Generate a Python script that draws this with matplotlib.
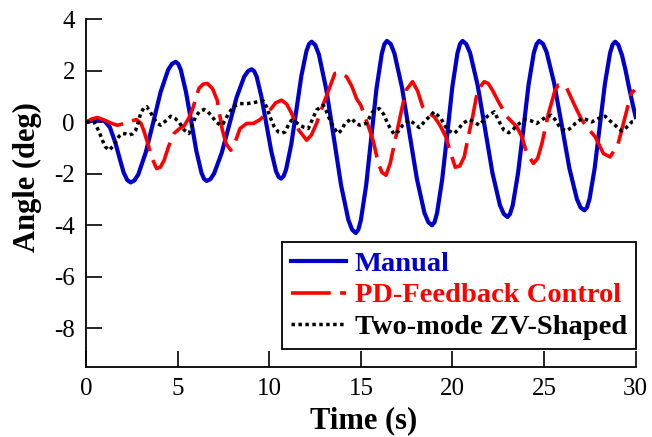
import numpy as np
import matplotlib
matplotlib.use('Agg')
import matplotlib.pyplot as plt

plt.rcParams['font.family'] = ['Liberation Serif', 'DejaVu Serif']
plt.rcParams['axes.unicode_minus'] = False

# Manual response
t_manual = [0, 0.5, 1.0, 1.3, 1.6, 1.85, 2.05, 2.25, 2.44,
            2.64, 2.85, 3.26, 3.67, 4.07, 4.48, 4.69, 4.89,
            5.03, 5.17, 5.45, 5.74, 6.02, 6.30, 6.44, 6.58,
            6.79, 6.99, 7.40, 7.81, 8.22, 8.63, 8.84, 9.04,
            9.17, 9.31, 9.57, 9.84, 10.11, 10.37, 10.51, 10.64,
            10.78, 10.92, 11.20, 11.48, 11.75, 12.03, 12.17, 12.31,
            12.51, 12.71, 13.11, 13.52, 13.92, 14.32, 14.52, 14.72,
            14.86, 15.00, 15.29, 15.57, 15.85, 16.14, 16.28, 16.42,
            16.63, 16.83, 17.24, 17.65, 18.06, 18.47, 18.68, 18.88,
            19.02, 19.16, 19.44, 19.72, 19.99, 20.27, 20.41, 20.55,
            20.75, 20.96, 21.37, 21.78, 22.18, 22.59, 22.80, 23.0,
            23.14, 23.29, 23.58, 23.87, 24.15, 24.44, 24.59, 24.73,
            24.94, 25.14, 25.55, 25.97, 26.38, 26.79, 26.99, 27.2,
            27.34, 27.48, 27.76, 28.04, 28.32, 28.60, 28.74, 28.88,
            29.05, 29.25, 29.45, 29.65, 29.85, 30.0]
y_manual = [0, 0.08, 0.05, -0.2, -0.8, -1.45, -1.95, -2.25, -2.34,
            -2.26, -2.03, -1.17, 0.0, 1.17, 2.03, 2.26, 2.34,
            2.26, 2.03, 1.18, 0.03, -1.12, -1.97, -2.20, -2.28,
            -2.21, -1.99, -1.20, -0.12, 0.97, 1.76, 1.98, 2.05,
            1.98, 1.77, 0.99, -0.07, -1.13, -1.91, -2.12, -2.19,
            -2.10, -1.83, -0.86, 0.47, 1.79, 2.76, 3.03, 3.12,
            2.99, 2.62, 1.27, -0.59, -2.45, -3.80, -4.17, -4.30,
            -4.17, -3.80, -2.44, -0.58, 1.29, 2.65, 3.02, 3.15,
            3.03, 2.67, 1.36, -0.43, -2.21, -3.52, -3.88, -4.0,
            -3.88, -3.52, -2.21, -0.43, 1.36, 2.67, 3.03, 3.15,
            3.03, 2.69, 1.44, -0.27, -1.97, -3.22, -3.56, -3.68,
            -3.56, -3.22, -1.97, -0.27, 1.44, 2.69, 3.03, 3.15,
            3.04, 2.71, 1.51, -0.14, -1.79, -2.98, -3.31, -3.42,
            -3.31, -2.98, -1.79, -0.15, 1.49, 2.68, 3.01, 3.12,
            3.0, 2.6, 2.0, 1.3, 0.65, 0.2]

# PD-feedback control response
t_pd = [0, 0.3, 0.62, 1.0, 1.4, 1.7, 2.1, 2.5, 2.75, 3.0, 3.16, 3.4, 3.6,
        3.85, 4.05, 4.26, 4.5, 4.8, 5.1, 5.35, 5.6, 5.8, 6.0, 6.16, 6.4,
        6.62, 6.9, 7.16, 7.44, 7.65, 7.9, 8.15, 8.4, 8.77, 9.13, 9.5, 10.04,
        10.35, 10.67, 10.95, 11.22, 11.6, 12.04, 12.3, 12.58, 12.95, 13.31,
        13.58, 13.9, 14.22, 14.5, 14.77, 15.0, 15.3, 15.5, 15.7, 15.95,
        16.15, 16.37, 16.6, 16.91, 17.2, 17.46, 17.82, 18.1, 18.37, 18.7,
        19.0, 19.3, 19.64, 19.9, 20.15, 20.4, 20.64, 20.85, 21.1, 21.37,
        21.73, 21.95, 22.18, 22.51, 22.97, 23.51, 23.79, 24.06, 24.42,
        24.65, 24.88, 25.24, 25.6, 25.78, 26.0, 26.24, 26.7, 27.06, 27.4,
        27.79, 28.24, 28.6, 29.02, 29.33, 29.75, 29.95]
y_pd = [0, 0.12, 0.18, 0.08, -0.05, -0.12, -0.05, 0.05, 0.1, -0.05, -0.35,
        -0.9, -1.4, -1.8, -1.75, -1.48, -0.95, -0.44, -0.25, -0.15, 0.15,
        0.47, 0.95, 1.31, 1.48, 1.5, 1.3, 0.85, -0.31, -0.85, -1.09, -0.75,
        -0.25, -0.05, -0.05, 0.1, 0.47, 0.75, 0.85, 0.7, 0.34, -0.3, -0.7,
        -0.5, -0.05, 0.7, 1.37, 1.89, 1.9, 1.76, 1.4, 0.9, 0.65, 0.05,
        -0.35, -0.8, -1.6, -1.95, -2.06, -1.6, -0.57, 0.4, 1.24, 1.57, 1.2,
        0.6, 0.35, 0.21, -0.1, -0.57, -1.2, -1.75, -1.7, -1.35, -0.6, 0.21,
        1.24, 1.57, 1.5, 1.24, 0.79, 0.21, -0.18, -0.57, -1.22, -1.6, -1.4,
        -0.83, 0.34, 1.24, 1.44, 1.45, 1.31, 0.6, 0.08, -0.25, -0.57, -1.22,
        -1.35, -0.89, -0.05, 1.11, 1.25]

# Two-mode ZV-shaped response
t_zv = [0, 0.44, 0.7, 0.89, 1.05, 1.25, 1.45, 1.62, 1.8, 1.98, 2.15, 2.35,
        2.55, 2.71, 2.85, 2.98, 3.15, 3.31, 3.5, 3.71, 3.9, 4.07, 4.35, 4.62,
        4.85, 5.07, 5.35, 5.62, 5.8, 5.98, 6.2, 6.44, 6.65, 6.89, 7.1, 7.35,
        7.49, 7.75, 8.04, 8.4, 8.8, 9.13, 9.4, 9.67, 9.85, 10.04, 10.25,
        10.49, 10.7, 10.86, 11.05, 11.22, 11.45, 11.67, 11.9, 12.13, 12.35,
        12.58, 12.95, 13.1, 13.31, 13.55, 13.76, 13.95, 14.13, 14.5, 14.73,
        14.95, 15.28, 15.45, 15.64, 16.0, 16.25, 16.46, 16.65, 16.82, 17.05,
        17.28, 17.64, 17.9, 18.18, 18.55, 19.0, 19.37, 19.73, 20.09, 20.3,
        20.55, 20.91, 21.2, 21.46, 21.91, 22.28, 22.6, 22.8, 23.06, 23.3,
        23.51, 23.97, 24.3, 24.6, 25.06, 25.39, 25.6, 25.79, 26.0, 26.24,
        26.5, 26.7, 27.06, 27.3, 27.6, 28.0, 28.33, 28.6, 28.88, 29.05,
        29.24, 29.5, 29.79, 30.0]
y_zv = [0, 0.0, -0.35, -0.7, -0.95, -1.09, -0.95, -0.76, -0.55, -0.44, -0.45,
        -0.5, -0.45, -0.31, 0.0, 0.34, 0.55, 0.6, 0.4, 0.14, -0.05, -0.12,
        0.05, 0.23, 0.15, 0.01, -0.3, -0.44, -0.1, 0.21, 0.42, 0.49, 0.4,
        0.21, 0.0, -0.12, -0.05, 0.3, 0.6, 0.72, 0.72, 0.75, 0.8, 0.83, 0.6,
        0.21, -0.15, -0.38, -0.42, -0.38, -0.1, 0.08, 0.0, -0.12, -0.2,
        -0.25, 0.1, 0.47, 0.66, 0.45, 0.08, -0.25, -0.44, -0.3, -0.05, 0.14,
        -0.05, -0.12, -0.05, 0.15, 0.4, 0.53, 0.3, -0.05, -0.3, -0.47, -0.35,
        -0.12, 0.08, -0.05, -0.21, 0.08, 0.4, 0.14, -0.31, -0.44, -0.3,
        -0.05, 0.1, 0.0, -0.12, 0.23, 0.4, -0.05, -0.3, -0.41, -0.3, -0.12,
        0.1, 0.05, -0.05, 0.18, 0.27, 0.1, -0.12, -0.28, -0.34, -0.2, -0.05,
        0.14, 0.1, 0.01, 0.15, 0.23, 0.05, -0.12, -0.25, -0.34, -0.2, 0.01,
        0.05]

x_ticks = [0, 5, 10, 15, 20, 25, 30]
y_ticks = [-8, -6, -4, -2, 0, 2, 4]

fig = plt.figure(figsize=(6.52, 4.37), dpi=100)
ax = fig.add_axes([0.132, 0.160, 0.843, 0.7965])

ax.plot(t_manual, y_manual, color='#0000cc', lw=3.0, label='Manual',
        solid_joinstyle='round')
ax.plot(t_pd, y_pd, color='#ff0000', lw=2.6, dashes=(11, 2.6),
        label='PD-Feedback Control')
ax.plot(t_zv, y_zv, color='black', lw=2.5, dashes=(1, 1),
        label='Two-mode ZV-Shaped')

ax.set_xlim(0, 30)
ax.set_ylim(-9.5, 4)
ax.set_xticks(x_ticks)
ax.set_yticks(y_ticks)
ax.tick_params(direction='in', length=11.5, width=1.2, labelsize=18, pad=8)

for s in ['top', 'right']:
    ax.spines[s].set_visible(False)
for s in ['left', 'bottom']:
    ax.spines[s].set_linewidth(1.3)

ax.set_xlabel('Time (s)', fontsize=22, fontweight='bold')
ax.set_ylabel('Angle (deg)', fontsize=22, fontweight='bold')
ax.xaxis.set_label_coords(0.505, -0.112)
ax.yaxis.set_label_coords(-0.08, 0.546)

leg = ax.legend(loc='lower right', bbox_to_anchor=(1.0, 0.053),
                prop={'size': 20.5, 'weight': 'bold'}, fancybox=False,
                edgecolor='black', framealpha=1, handlelength=1.95,
                handletextpad=0.3, labelspacing=0.2, borderpad=0.3,
                borderaxespad=0)
leg.get_frame().set_linewidth(1.3)
for txt, line in zip(leg.get_texts(), leg.get_lines()):
    txt.set_color(line.get_color())

fig.savefig('out.png', dpi=100)
